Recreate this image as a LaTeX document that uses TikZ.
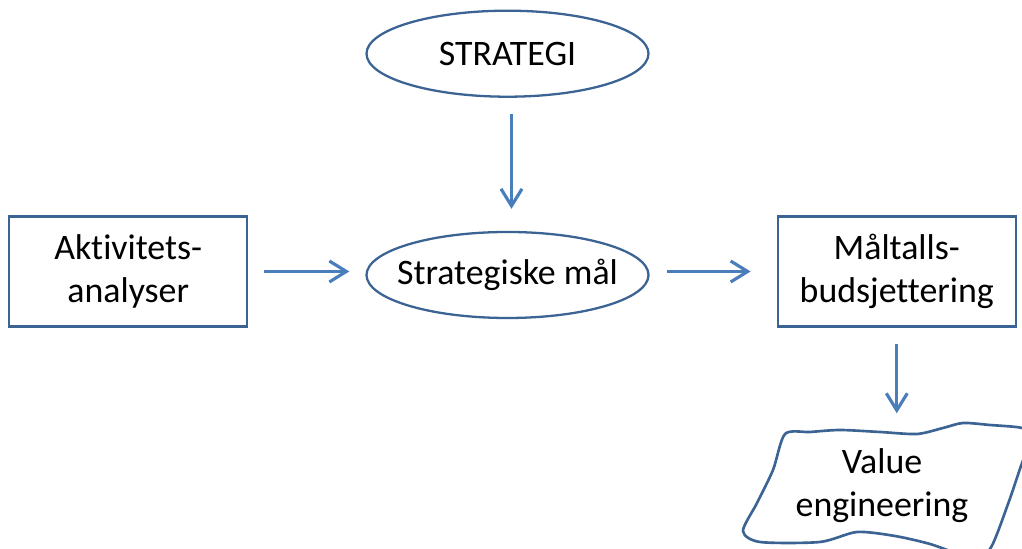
\documentclass[tikz,border=0pt]{standalone}
\usepackage{fontspec}
\setmainfont{Carlito}[Ligatures=NoCommon]
\usetikzlibrary{arrows.meta,positioning,shapes.geometric}
\definecolor{rand}{HTML}{3B6393}
\definecolor{pil}{HTML}{4A7EBB}

\begin{document}
\begin{tikzpicture}[
  every node/.style={font=\fontsize{10.2}{12.2}\selectfont, text=black},
  boks/.style={draw=rand, line width=0.65pt, minimum width=2.38cm, minimum height=1.1cm, inner sep=1pt, align=center},
  elli/.style={draw=rand, line width=0.65pt, ellipse, minimum width=2.82cm, minimum height=0.86cm, inner xsep=-1.5mm, inner ysep=0pt},
  arr/.style={pil, line width=0.9pt, -{Straight Barb[length=1.7mm, width=2.1mm]}, shorten <=0.16cm, shorten >=0.22cm}]

\useasboundingbox (0,0) rectangle (10.22,5.49);

\node[elli] (mal) at (5.075,2.74) {Strategiske mål};
\node[elli, above=1.33cm of mal] (strat) {STRATEGI};
\node[boks, left=1.17cm of mal, yshift=0.35mm] (akt) {Aktivitets-\\analyser};
\node[boks, right=1.27cm of mal, yshift=0.35mm] (mtb) {Måltalls-\\budsjettering};
\node[minimum height=1cm, align=center] (val) at (8.82,0.63) {Value\\engineering};

% Skjev ramme rundt value engineering
\draw[rand, line width=0.75pt] plot[smooth cycle, tension=0.45] coordinates {
  (7.85,1.15) (8.10,1.17) (8.40,1.19) (8.80,1.17) (9.17,1.15) (9.43,1.21)
  (9.63,1.26) (9.90,1.24) (10.22,1.21) (10.32,1.12) (10.22,0.86) (10.08,0.45)
  (9.90,0.00) (9.70,-0.08) (9.30,0.05) (8.95,0.13) (8.57,0.17) (8.20,0.07)
  (7.60,0.07) (7.43,0.18) (7.57,0.46) (7.73,0.79)};

% Piler
\draw[arr] ([xshift=0.4mm]strat.south) -- ([xshift=0.4mm]mal.north);
\draw[arr, shorten >=0.16cm] (akt.east) -- (mal.west |- akt.east);
\draw[arr, shorten <=0.17cm, shorten >=0.26cm] (mal.east |- mtb.west) -- (mtb.west);
\draw[arr] (mtb.south) -- (mtb.south |- val.north);

\end{tikzpicture}
\end{document}
